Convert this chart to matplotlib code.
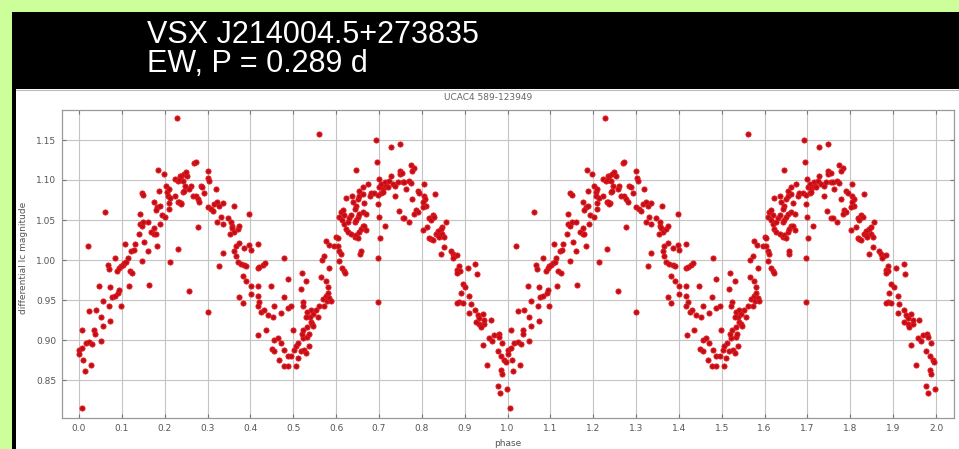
import matplotlib
matplotlib.use('Agg')
import matplotlib.pyplot as plt
import numpy as np
from matplotlib.patches import Rectangle
from matplotlib.lines import Line2D

# ---------------- data (one cycle, phase 0..1; plotted twice) ----------------
phase = [
0.000,0.000,0.008,0.016,0.024,0.031,0.010,0.013,0.029,0.051,0.008,0.035,0.037,0.024,0.039,0.051,
0.055,0.073,0.055,0.071,0.076,0.083,0.091,0.094,0.098,0.047,0.073,0.116,0.163,0.067,0.069,0.083,
0.089,0.094,0.098,0.102,0.106,0.110,0.118,0.124,0.114,0.108,0.122,0.128,0.130,0.146,0.152,0.161,
0.183,0.139,0.142,0.146,0.150,0.161,0.142,0.169,0.176,0.179,0.176,0.190,0.193,0.201,0.183,0.179,
0.176,0.189,0.209,0.210,0.147,0.150,0.187,0.185,0.198,0.202,0.206,0.207,0.209,0.213,0.223,0.224,
0.230,0.235,0.232,0.239,0.232,0.213,0.061,0.020,0.228,0.006,
0.238,0.245,0.253,0.249,0.234,0.242,0.247,0.261,0.257,0.265,0.242,0.245,0.234,0.238,0.273,0.277,
0.281,0.284,0.288,0.292,0.300,0.302,0.304,0.319,0.277,0.300,0.308,0.312,0.316,0.323,0.327,0.335,
0.331,0.323,0.335,0.347,0.355,0.356,0.358,0.362,0.353,0.370,0.374,0.361,0.269,0.273,0.257,0.300,
0.327,0.335,0.362,0.366,0.374,0.386,0.397,0.401,0.417,0.366,0.370,0.378,0.386,0.390,0.417,0.421,
0.429,0.434,0.479,0.382,0.390,0.401,0.417,0.448,0.487,0.374,0.382,0.401,0.417,0.421,0.417,0.425,
0.431,0.440,0.452,0.456,0.471,0.478,0.487,0.495,0.418,0.436,0.456,0.464,0.450,0.456,0.471,0.479,
0.487,0.467,0.478,0.487,0.495,0.499,0.397,
0.561,0.520,0.530,0.518,0.523,0.522,0.533,0.541,0.545,0.553,0.557,0.561,0.569,0.572,0.576,0.580,
0.578,0.584,0.588,0.565,0.576,0.580,0.567,0.572,0.584,0.583,0.596,0.604,0.607,0.611,0.607,0.614,
0.619,0.621,0.600,0.604,0.576,0.607,0.611,0.615,0.619,0.614,0.619,0.627,0.631,0.635,0.623,0.627,
0.635,0.643,0.646,0.650,0.654,0.658,0.662,0.666,0.670,0.643,0.646,0.650,0.654,0.662,0.670,0.646,
0.643,0.639,0.650,0.654,0.662,0.674,0.678,0.681,0.666,0.623,0.637,0.654,0.662,0.646,0.656,0.692,
0.695,0.699,0.701,0.705,0.709,0.713,0.715,0.717,0.720,0.724,0.728,0.732,0.738,0.744,0.748,0.749,
0.754,0.727,0.748,0.689,0.697,0.705,0.709,0.697,0.699,0.713,0.702,0.697,0.697,0.738,0.746,0.755,
0.755,0.658,0.502,0.506,0.512,0.518,0.510,0.522,0.526,0.530,0.537,0.533,0.533,0.541,0.544,0.547,
0.539,0.530,0.520,0.523,0.536,0.506,
0.774,0.782,0.778,0.759,0.763,0.770,0.774,0.790,0.805,0.794,0.805,0.808,0.803,0.809,0.802,0.778,
0.786,0.790,0.782,0.759,0.770,0.831,0.817,0.825,0.821,0.829,0.856,0.848,0.844,0.837,0.833,0.837,
0.817,0.821,0.825,0.840,0.848,0.852,0.802,0.813,0.844,0.852,0.868,0.872,0.876,0.883,0.873,0.887,
0.883,0.889,0.883,0.907,0.925,0.928,0.895,0.901,0.891,0.887,0.883,0.895,0.911,0.914,0.911,0.925,
0.930,0.934,0.942,0.946,0.934,0.926,0.938,0.946,0.961,0.957,0.964,0.942,0.969,0.977,0.979,0.981,
0.988,0.985,0.992,0.953,0.985,0.988,0.996,0.977,0.982,0.998,
]
mag = [
0.888,0.883,0.890,0.896,0.898,0.895,0.875,0.861,0.869,0.899,0.912,0.912,0.908,0.936,0.937,0.929,
0.917,0.924,0.949,0.942,0.954,0.955,0.959,0.963,0.943,0.968,0.966,0.968,0.969,0.994,0.989,1.002,
0.986,0.990,0.992,0.994,0.996,0.998,0.986,0.984,1.002,1.020,1.011,1.013,1.020,0.999,1.022,1.011,
1.018,1.033,1.045,1.043,1.048,1.048,1.057,1.035,1.032,1.033,1.040,1.045,1.056,1.054,1.066,1.063,
1.072,1.067,1.064,1.071,1.084,1.081,1.086,1.113,1.108,1.093,1.085,1.080,1.089,1.078,1.080,1.101,
1.099,1.105,1.072,1.071,1.014,0.998,1.060,1.018,1.177,0.815,
1.105,1.107,1.105,1.110,1.100,1.099,1.093,1.093,1.089,1.080,1.085,1.086,1.072,1.070,1.080,1.076,
1.072,1.093,1.091,1.084,1.111,1.102,1.099,1.089,1.041,1.066,1.064,1.061,1.070,1.072,1.068,1.071,
1.054,1.047,1.045,1.052,1.048,1.043,1.040,1.035,1.033,1.039,1.043,1.068,1.121,1.123,0.961,0.935,
0.993,1.009,1.011,1.017,1.021,1.015,1.019,1.013,1.020,1.005,0.998,0.995,0.994,0.992,0.990,0.991,
0.994,0.996,1.003,0.980,0.974,0.968,0.968,0.968,0.976,0.954,0.946,0.957,0.955,0.948,0.943,0.935,
0.937,0.931,0.929,0.943,0.934,0.954,0.940,0.943,0.906,0.913,0.900,0.902,0.889,0.886,0.896,0.888,
0.880,0.875,0.867,0.867,0.880,0.912,1.057,
1.158,0.984,0.974,0.964,0.947,0.943,0.935,0.938,0.933,0.937,0.929,0.943,0.951,0.942,0.955,0.959,
0.949,0.953,0.949,0.979,0.974,0.966,1.000,1.005,0.990,1.019,1.017,1.018,1.011,1.007,0.999,0.990,
0.986,0.984,1.029,1.027,1.024,1.054,1.060,1.062,1.056,1.050,1.045,1.048,1.052,1.056,1.039,1.035,
1.033,1.029,1.031,1.027,1.035,1.039,1.043,1.043,1.037,1.048,1.050,1.054,1.058,1.060,1.058,1.068,
1.064,1.072,1.076,1.080,1.082,1.095,1.080,1.084,1.071,1.078,1.080,1.086,1.091,1.113,1.007,1.150,
1.123,1.101,1.091,1.095,1.089,1.093,1.098,1.093,1.091,1.099,1.105,1.095,1.093,1.098,1.111,1.107,
1.109,1.141,1.145,1.084,1.081,1.084,1.085,1.070,1.054,1.043,1.027,1.002,0.947,1.080,1.061,1.052,
1.097,1.011,0.888,0.892,0.896,0.886,0.877,0.902,0.888,0.884,0.893,0.904,0.916,0.923,0.920,0.917,
0.929,0.929,0.908,0.912,0.908,0.867,
1.119,1.115,1.111,1.097,1.089,1.099,1.096,1.086,1.095,1.084,1.080,1.076,1.072,1.068,1.066,1.076,
1.062,1.060,1.058,1.052,1.048,1.082,1.052,1.056,1.050,1.054,1.048,1.041,1.039,1.036,1.033,1.031,
1.027,1.026,1.025,1.029,1.033,1.029,1.037,1.041,1.007,1.016,1.011,1.007,1.005,1.006,1.002,0.992,
0.988,0.986,0.984,0.990,0.995,0.983,0.970,0.966,0.959,0.948,0.946,0.946,0.955,0.945,0.934,0.937,
0.931,0.927,0.933,0.920,0.920,0.923,0.916,0.925,0.925,0.902,0.899,0.894,0.906,0.886,0.908,0.904,
0.896,0.880,0.875,0.869,0.863,0.858,0.873,0.843,0.834,0.839,
]
x_ticks = [0.0,0.1,0.2,0.3,0.4,0.5,0.6,0.7,0.8,0.9,1.0,1.1,1.2,1.3,1.4,1.5,1.6,1.7,1.8,1.9,2.0]
y_ticks = [0.85,0.90,0.95,1.00,1.05,1.10,1.15]
header_lines = ["VSX J214004.5+273835", "EW, P = 0.289 d"]
plot_title = "UCAC4 589-123949"
x_label = "phase"
y_label = "differential Ic magnitude"

# ---------------- figure ----------------
W, H = 959, 449
fig = plt.figure(figsize=(W/100, H/100), dpi=100)
fig.patch.set_facecolor('#ccff99')
fig.add_artist(Rectangle((12/W, 0), 1 - 12/W, 1 - 12/H, transform=fig.transFigure,
                         facecolor='black', edgecolor='none', zorder=-2))
fig.add_artist(Rectangle((16/W, 0), 1 - 16/W, (H - 89)/H, transform=fig.transFigure,
                         facecolor='white', edgecolor='none', zorder=-1.5))
fig.add_artist(Line2D([16/W, 1], [(H - 90)/H]*2, transform=fig.transFigure,
                      color='#bbbbbb', lw=0.8, zorder=-1))

fig.text(147/W, 1 - 43/H, header_lines[0], color='white', fontsize=22,
         family='Liberation Sans', va='baseline', ha='left')
fig.text(147/W, 1 - 72/H, header_lines[1], color='white', fontsize=22,
         family='Liberation Sans', va='baseline', ha='left')

ax = fig.add_axes([62/W, (H - 418)/H, 892/W, 308/H])
ax.set_zorder(5)
ax.set_facecolor('white')

ph = np.asarray(phase)
mg = np.asarray(mag)
ax.scatter(np.concatenate([ph, ph + 1.0]), np.concatenate([mg, mg]),
           s=14, facecolor='#b8101c', edgecolors='#f01818', linewidths=0.6, zorder=3)

ax.set_xlim(-0.0397, 2.042)
ax.set_ylim(0.8025, 1.1875)
ax.set_xticks(x_ticks)
ax.set_xticklabels([f"{t:.1f}" for t in x_ticks])
ax.set_yticks(y_ticks)
ax.set_yticklabels([f"{t:.2f}" for t in y_ticks])
ax.grid(True, color='#c4c4c4', lw=0.8, zorder=0)
ax.set_axisbelow(True)
ax.tick_params(direction='in', length=3, width=0.8, color='#777777',
               labelsize=6.5, labelcolor='#555555', top=True, right=True, pad=4)
for sp in ax.spines.values():
    sp.set_color('#999999')
    sp.set_linewidth(0.9)

fig.text(488/W, 1 - 98/H, plot_title, fontsize=6.5, color='#666666', ha='center', va='center')
fig.text(508/W, 1 - 444/H, x_label, fontsize=6.5, color='#555555', ha='center', va='center')
fig.text(24/W, 1 - 258/H, y_label, fontsize=6.5, color='#555555', ha='center', va='center',
         rotation=90)

fig.savefig('out.png', dpi=100, facecolor=fig.get_facecolor())
